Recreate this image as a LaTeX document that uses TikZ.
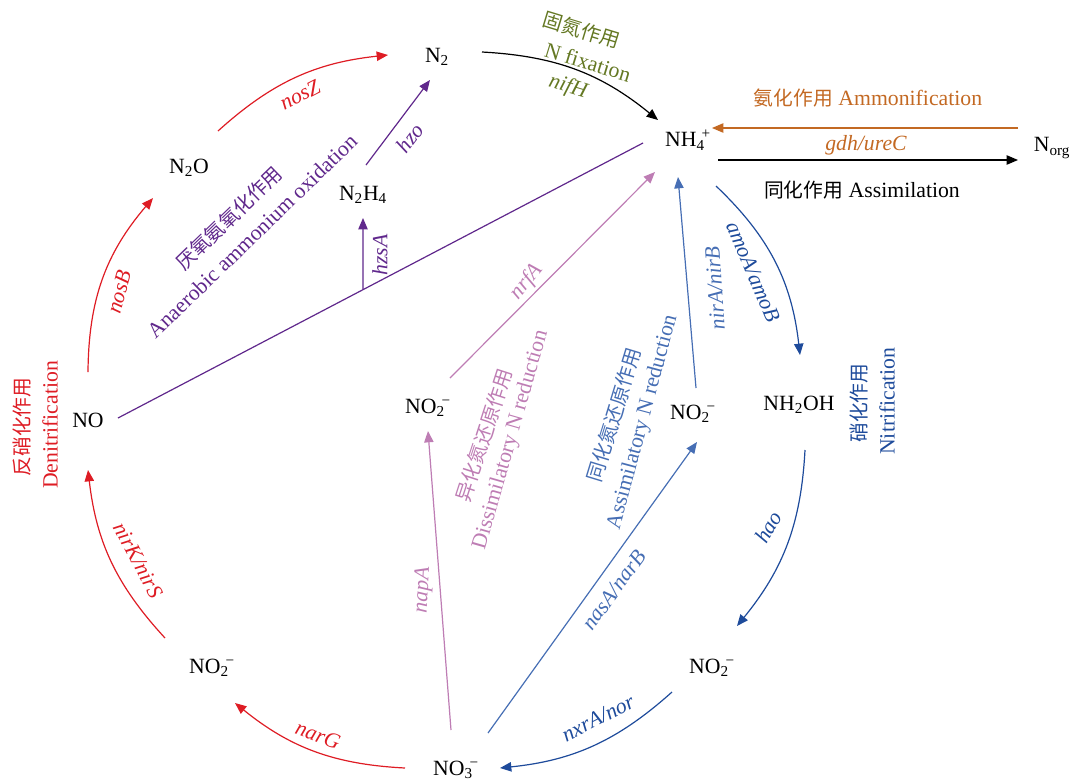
\documentclass[tikz,border=0pt]{standalone}
\usepackage{fontspec}
\setmainfont{Liberation Serif}
\newfontfamily\cjk[Scale=0.91]{Noto Sans CJK SC}
\usetikzlibrary{arrows.meta,calc}
\definecolor{cred}{RGB}{222,28,36}
\definecolor{cpurple}{RGB}{96,40,140}
\definecolor{cpink}{RGB}{190,125,180}
\definecolor{cblue}{RGB}{70,110,180}
\definecolor{cdblue}{RGB}{30,75,155}
\definecolor{corange}{RGB}{195,105,35}
\definecolor{cgreen}{RGB}{100,120,35}
\newcommand\fs{\fontsize{16.3}{19}\selectfont}
\newcommand\ionx[3]{#1\textsubscript{#2}\kern-0.15em\textsuperscript{#3}}
\tikzset{
  chem/.style={font=\fs, inner sep=0pt},
  lbl/.style={font=\fs, inner sep=0pt},
  gene/.style={font=\fs\itshape, inner sep=0pt},
  arr/.style={-{Triangle[length=8.5pt,width=7pt]}, line width=0.9pt},
  ln/.style={line width=0.9pt},
}
\begin{document}
\begin{tikzpicture}[x=0.75pt,y=-0.75pt]
\useasboundingbox (0,0) rectangle (1072,783);
% species
\node[chem] (n2) at (437,57) {N\textsubscript{2}};
\node[chem] (nh4) at (688,140) {\ionx{NH}{4}{+}};
\node[chem] (norg) at (1052,148) {N\textsubscript{org}};
\node[chem] (n2o) at (189,168) {N\textsubscript{2}O};
\node[chem] (n2h4) at (363,195) {N\textsubscript{2}H\textsubscript{4}};
\node[chem] (no) at (88,420) {NO};
\node[chem] (nod) at (428,408) {\ionx{NO}{2}{−}};
\node[chem] (noa) at (693,414) {\ionx{NO}{2}{−}};
\node[chem] (nh2oh) at (799,405) {NH\textsubscript{2}OH};
\node[chem] (non) at (712,668) {\ionx{NO}{2}{−}};
\node[chem] (nodn) at (212,668) {\ionx{NO}{2}{−}};
\node[chem] (no3) at (456,770) {\ionx{NO}{3}{−}};

% N fixation / ammonification / assimilation
\draw[arr,black] ($(n2)+(45,-5)$) to[bend left=18] ($(nh4)+(-30,-20)$);
\draw[arr,corange] ($(norg)+(-34,-20)$) -- ($(nh4)+(24,-12)$);
\draw[arr,black] ($(nh4)+(30,20)$) -- ($(norg)+(-34,12)$);
\node[lbl,cgreen,rotate=-17] (fix1) at (582,30) {\cjk 固氮作用};
\node[lbl,cgreen,rotate=-17] (fix2) at (588,62) {N fixation};
\node[gene,cgreen,rotate=-17] (fix3) at (568,87) {nifH};
\node[lbl,corange] (amm) at (868,98) {{\cjk 氨化作用} Ammonification};
\node[gene,corange] (gdh) at (866,145) {gdh/ureC};
\node[lbl,black] (asl) at (862,190) {{\cjk 同化作用} Assimilation};

% nitrification
\draw[arr,cdblue] ($(nh4)+(28,46)$) to[bend left=20] ($(nh2oh)+(1,-50)$);
\draw[arr,cdblue] ($(nh2oh)+(6,45)$) to[bend left=18] ($(non)+(25,-42)$);
\draw[arr,cdblue] ($(non)+(-40,24)$) to[bend left=18] ($(no3)+(44,-2)$);
\node[gene,cdblue,rotate=-67] (amo) at (753,272) {amoA/amoB};
\node[gene,cdblue,rotate=60] (hao) at (768,527) {hao};
\node[gene,cdblue,rotate=27] (nxr) at (598,718) {nxrA/nor};
\node[lbl,cdblue,rotate=90] (nit1) at (859,403) {\cjk 硝化作用};
\node[lbl,cdblue,rotate=90] (nit2) at (887,401) {Nitrification};

% denitrification
\draw[arr,cred] ($(no3)+(-51,-2)$) to[bend left=18] ($(nodn)+(23,35)$);
\draw[arr,cred] ($(nodn)+(-47,-30)$) to[bend left=18] ($(no)+(0,50)$);
\draw[arr,cred] ($(no)+(0,-48)$) to[bend left=20] ($(n2o)+(-36,30)$);
\draw[arr,cred] ($(n2o)+(29,-37)$) to[bend left=18] ($(n2)+(-49,-2)$);
\node[gene,cred,rotate=-20] (narg) at (318,735) {narG};
\node[gene,cred,rotate=-62] (nirk) at (138,560) {nirK/nirS};
\node[gene,cred,rotate=75] (nosb) at (119,292) {nosB};
\node[gene,cred,rotate=27] (nosz) at (300,95) {nosZ};
\node[lbl,cred,rotate=90] (den1) at (22,427) {\cjk 反硝化作用};
\node[lbl,cred,rotate=90] (den2) at (50,425) {Denitrification};

% anammox
\draw[ln,cpurple] ($(no)+(30,-2)$) -- coordinate[pos=0.4667] (hz) ($(nh4)+(-45,3)$);
\draw[arr,cpurple] (hz) -- ($(n2h4)+(0,23)$);
\draw[arr,cpurple] ($(n2h4)+(3,-30)$) -- ($(n2)+(-7,23)$);
\node[gene,cpurple,rotate=90] (hzsa) at (380,255) {hzsA};
\node[gene,cpurple,rotate=53] (hzo) at (410,138) {hzo};
\node[lbl,cpurple,rotate=44] (ana1) at (229,218) {\cjk 厌氧氨氧化作用};
\node[lbl,cpurple,rotate=44] (ana2) at (252,236) {Anaerobic ammonium oxidation};

% dissimilatory N reduction
\draw[arr,cpink] ($(no3)+(-5,-40)$) -- ($(nod)+(0,23)$);
\draw[arr,cpink] ($(nod)+(22,-30)$) -- ($(nh4)+(-33,32)$);
\node[gene,cpink,rotate=87] (napa) at (423,590) {napA};
\node[gene,cpink,rotate=50] (nrfa) at (527,282) {nrfA};
\node[lbl,cpink,rotate=72] (dis1) at (484,435) {\cjk 异化氮还原作用};
\node[lbl,cpink,rotate=74] (dis2) at (511,440) {Dissimilatory N reduction};

% assimilatory N reduction
\draw[arr,cblue] ($(no3)+(32,-37)$) -- ($(noa)+(4,28)$);
\draw[arr,cblue] ($(noa)+(3,-26)$) -- ($(nh4)+(-10,37)$);
\node[gene,cblue,rotate=54] (nasa) at (614,590) {nasA/narB};
\node[gene,cblue,rotate=94] (nira) at (715,288) {nirA/nirB};
\node[lbl,cblue,rotate=73] (as1) at (614,415) {\cjk 同化氮还原作用};
\node[lbl,cblue,rotate=75] (as2) at (643,422) {Assimilatory N reduction};
\end{tikzpicture}
\end{document}
